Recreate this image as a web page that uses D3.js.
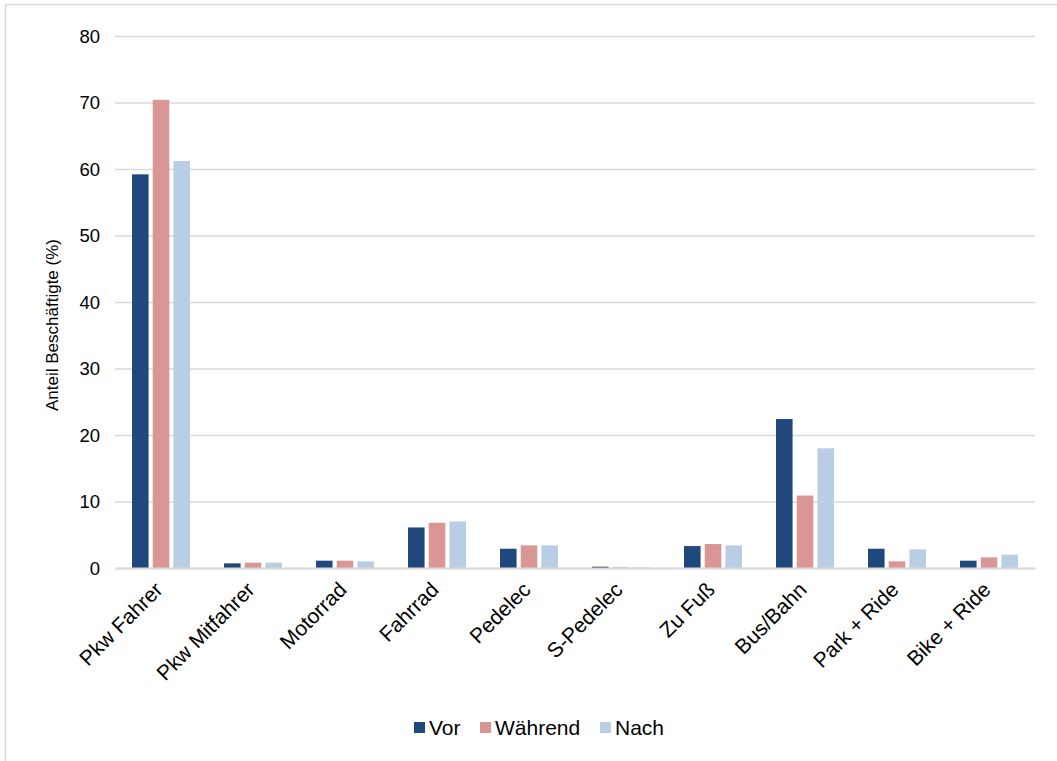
<!DOCTYPE html>
<html><head><meta charset="utf-8">
<script src="https://cdn.jsdelivr.net/npm/d3@7"></script>
<style>body{margin:0;background:#fff;}svg{display:block;font-family:"Liberation Sans",Arial,sans-serif;}</style>
</head><body><svg id="c" width="1057" height="761"></svg>
<script>
const categories = ["Pkw Fahrer","Pkw Mitfahrer","Motorrad","Fahrrad","Pedelec","S-Pedelec","Zu Fuß","Bus/Bahn","Park + Ride","Bike + Ride"];
const seriesNames = ["Vor","Während","Nach"];
const vor = [59.2,0.7,1.1,6.1,2.9,0.2,3.3,22.4,2.9,1.1];
const waehrend = [70.4,0.8,1.1,6.8,3.4,0.1,3.6,10.9,1.0,1.6];
const nach = [61.2,0.8,1.0,7.0,3.4,0.1,3.4,18.0,2.8,2.0];
const yTicks = [0,10,20,30,40,50,60,70,80];
const colors = ["#1F497D","#D99694","#B9CDE5"];
const seriesValues = [vor, waehrend, nach];

(function(){
const svg = d3.select("#c");
svg.append("rect").attr("x",5.5).attr("y",4.5).attr("width",1100).attr("height",800)
  .attr("fill","#fff").attr("stroke","#d9d9d9").attr("stroke-width",1.5);

const pLeft=115, pRight=1035, pTop=36, pBottom=568;
const y = d3.scaleLinear().domain([0,80]).range([pBottom, pTop]);
const x0 = d3.scaleBand().domain(categories).range([pLeft,pRight]).paddingInner(0.37).paddingOuter(0.185);
const x1 = d3.scaleBand().domain(seriesNames).range([0,x0.bandwidth()]).paddingInner(0.2);

const yAxis = d3.axisLeft(y).tickValues(yTicks).tickSize(-(pRight-pLeft)).tickPadding(15).tickFormat(d3.format("d"));
const gy = svg.append("g").attr("transform",`translate(${pLeft},0)`).call(yAxis);
gy.select(".domain").remove();
gy.selectAll(".tick line").attr("stroke","#d9d9d9").attr("stroke-width",1.5);
gy.selectAll(".tick text").attr("font-size",18.5).attr("fill","#000").attr("dy","0.35em");

const groups = svg.append("g").selectAll("g").data(categories).join("g")
  .attr("transform",d=>`translate(${x0(d)},0)`);
groups.selectAll("rect").data((c,i)=>seriesNames.map((s,j)=>({s, v: seriesValues[j][i], j})))
  .join("rect")
  .attr("x",d=>x1(d.s)).attr("width",x1.bandwidth())
  .attr("y",d=>y(d.v)).attr("height",d=>y(0)-y(d.v))
  .attr("fill",d=>colors[d.j]);

const xAxis = d3.axisBottom(x0).tickSize(0).tickPadding(0);
const gx = svg.append("g").attr("transform",`translate(0,${pBottom})`).call(xAxis);
gx.select(".domain").attr("stroke","#d9d9d9").attr("stroke-width",2);
gx.selectAll(".tick text").attr("font-size",21).attr("fill","#000")
  .attr("text-anchor","end").attr("dy",0)
  .attr("transform","translate(3,23) rotate(-45)");

svg.append("text").attr("transform","translate(58,325) rotate(-90)")
  .attr("text-anchor","middle").attr("font-size",17).text("Anteil Beschäftigte (%)");

const legX = [414, 480, 600];
const leg = svg.append("g").selectAll("g").data(seriesNames).join("g")
  .attr("transform",(d,i)=>`translate(${legX[i]},722)`);
leg.append("rect").attr("width",11).attr("height",11).attr("fill",(d,i)=>colors[i]);
leg.append("text").attr("x",15).attr("y",12.5).attr("font-size",21).text(d=>d);
})();
</script></body></html>
